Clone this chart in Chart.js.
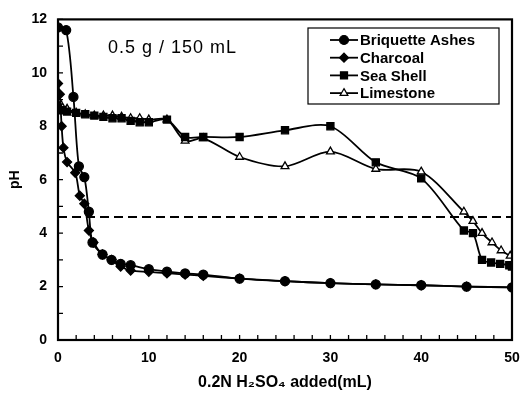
<!DOCTYPE html>
<html>
<head>
<meta charset="utf-8">
<style>
  html, body { margin: 0; padding: 0; background: #fff; }
  #wrap { position: relative; width: 520px; height: 396px; }
</style>
<script src="https://cdn.jsdelivr.net/npm/chart.js@4/dist/chart.umd.min.js"></script>
</head>
<body>
<div id="wrap"><canvas id="phChart" width="520" height="396"></canvas></div>
<script>
  // values: mL of acid added vs pH
  var ashesX = [0, 0.9, 1.7, 2.3, 2.9, 3.4, 3.8, 4.9, 5.9, 6.9, 8, 10, 12, 14, 16, 20, 25, 30, 35, 40, 45, 50];
  var ashesY = [11.7, 11.6, 9.1, 6.5, 6.1, 4.8, 3.65, 3.2, 3.0, 2.85, 2.8, 2.65, 2.56, 2.49, 2.45, 2.3, 2.2, 2.13, 2.08, 2.05, 2.0, 1.97];

  var charcoalX = [0, 0.2, 0.4, 0.6, 1, 1.9, 2.4, 2.9, 3.4, 3.9, 4.9, 5.9, 6.9, 8, 10, 12, 14, 16, 20, 25, 30, 35, 40, 45, 50];
  var charcoalY = [9.6, 9.2, 8.0, 7.2, 6.66, 6.26, 5.4, 5.1, 4.1, 3.65, 3.2, 3.0, 2.75, 2.6, 2.55, 2.5, 2.45, 2.4, 2.3, 2.2, 2.13, 2.08, 2.05, 2.0, 1.97];

  var shellX = [0, 0.5, 1, 2, 3, 4, 5, 6, 7, 8, 9, 10, 12, 14, 16, 20, 25, 30, 35, 40, 44.7, 45.7, 46.7, 47.7, 48.7, 49.7, 50];
  var shellY = [8.7, 8.6, 8.55, 8.5, 8.45, 8.4, 8.35, 8.3, 8.3, 8.2, 8.15, 8.15, 8.25, 7.6, 7.6, 7.6, 7.85, 8.0, 6.65, 6.05, 4.1, 4.0, 3.0, 2.9, 2.85, 2.8, 2.75];

  var limeX = [0, 0.5, 1, 2, 3, 4, 5, 6, 7, 8, 9, 10, 12, 14, 16, 20, 25, 30, 35, 40, 44.7, 45.7, 46.7, 47.8, 48.8, 49.8];
  var limeY = [9.0, 8.7, 8.65, 8.5, 8.45, 8.4, 8.4, 8.4, 8.35, 8.3, 8.3, 8.25, 8.25, 7.45, 7.55, 6.85, 6.5, 7.05, 6.4, 6.3, 4.8, 4.45, 4.0, 3.65, 3.35, 3.15];

  var refLineX = [0, 50];
  var refLineY = [4.6, 4.6];

  var seriesNames = ["Briquette Ashes", "Charcoal", "Sea Shell", "Limestone"];
  var xTicks = [0, 10, 20, 30, 40, 50];
  var yTicks = [0, 2, 4, 6, 8, 10, 12];

  function pairs(xs, ys) {
    return xs.map(function (x, i) { return { x: x, y: ys[i] }; });
  }

  var font = "'Liberation Sans', Arial, sans-serif";

  var markers = [
    { style: "circle", radius: 4.5, fill: "#000" },
    { style: "rectRot", radius: 4.5, fill: "#000" },
    { style: "rect", radius: 5, fill: "#000" },
    { style: "triangle", radius: 4.5, fill: "#fff" },
  ];

  function lineSet(label, xs, ys, m) {
    return {
      label: label,
      data: pairs(xs, ys),
      borderColor: "#000",
      borderWidth: 1.8,
      pointStyle: m.style,
      pointRadius: m.radius,
      pointBackgroundColor: m.fill,
      pointBorderColor: "#000",
      pointBorderWidth: 1.3,
      tension: 0.3,
      fill: false,
    };
  }

  // frame, inward tick marks, legend box and note
  var decorations = {
    id: "decorations",
    afterDatasetsDraw: function (chart) {
      var ctx = chart.ctx;
      var a = chart.chartArea;
      var xs = chart.scales.x;
      var ys = chart.scales.y;
      ctx.save();
      ctx.strokeStyle = "#000";
      ctx.lineWidth = 2.2;
      ctx.strokeRect(a.left, a.top, a.right - a.left, a.bottom - a.top);

      ctx.lineWidth = 1.3;
      ctx.beginPath();
      for (var v = 0; v <= 12; v++) {
        var py = ys.getPixelForValue(v);
        ctx.moveTo(a.left, py);
        ctx.lineTo(a.left + 5, py);
      }
      for (var u = 0; u <= 50; u += 2) {
        var px = xs.getPixelForValue(u);
        ctx.moveTo(px, a.bottom);
        ctx.lineTo(px, a.bottom - 5);
      }
      ctx.stroke();

      // note
      ctx.fillStyle = "#000";
      ctx.font = "18px " + font;
      ctx.letterSpacing = "1px";
      ctx.textAlign = "left";
      ctx.textBaseline = "middle";
      ctx.fillText("0.5 g / 150 mL", 108, 48);
      ctx.letterSpacing = "0px";

      // legend
      var bx = 308, by = 28, bw = 191, bh = 76;
      ctx.fillStyle = "#fff";
      ctx.fillRect(bx, by, bw, bh);
      ctx.lineWidth = 1.2;
      ctx.strokeRect(bx, by, bw, bh);
      ctx.font = "bold 15px " + font;
      for (var i = 0; i < seriesNames.length; i++) {
        var ry = 40 + i * 17.7;
        ctx.strokeStyle = "#000";
        ctx.lineWidth = 1.8;
        ctx.beginPath();
        ctx.moveTo(330, ry);
        ctx.lineTo(358, ry);
        ctx.stroke();
        var m = markers[i];
        ctx.fillStyle = m.fill;
        ctx.lineWidth = 1.2;
        Chart.helpers.drawPoint(ctx, { pointStyle: m.style, radius: m.radius, borderWidth: 1.2 }, 344, ry);
        ctx.fillStyle = "#000";
        ctx.fillText(seriesNames[i], 360, ry + 1);
      }
      ctx.restore();
    },
  };

  new Chart(document.getElementById("phChart"), {
    type: "line",
    data: {
      datasets: [
        lineSet(seriesNames[0], ashesX, ashesY, markers[0]),
        lineSet(seriesNames[1], charcoalX, charcoalY, markers[1]),
        lineSet(seriesNames[2], shellX, shellY, markers[2]),
        lineSet(seriesNames[3], limeX, limeY, markers[3]),
        {
          label: "reference",
          data: pairs(refLineX, refLineY),
          borderColor: "#000",
          borderWidth: 2,
          borderDash: [9, 5],
          pointRadius: 0,
          fill: false,
        },
      ],
    },
    options: {
      responsive: false,
      animation: false,
      layout: { padding: { top: 12, right: 0, left: 0, bottom: 0 } },
      plugins: {
        legend: { display: false },
        tooltip: { enabled: false },
      },
      scales: {
        x: {
          type: "linear",
          min: 0,
          max: 50,
          grid: { display: false, drawTicks: false },
          border: { display: false },
          afterFit: function (scale) {
            scale.height = 56;
            scale.paddingLeft = 0;
            scale.paddingRight = 8;
          },
          afterBuildTicks: function (scale) {
            scale.ticks = xTicks.map(function (v) { return { value: v }; });
          },
          ticks: {
            color: "#000",
            padding: 10,
            maxRotation: 0,
            font: { family: font, size: 14, weight: "bold" },
          },
          title: {
            display: true,
            text: "0.2N H\u2082SO\u2084 added(mL)",
            color: "#000",
            padding: { top: 4, bottom: 4 },
            font: { family: font, size: 16, weight: "bold" },
          },
        },
        y: {
          min: 0,
          max: 12,
          grid: { display: false, drawTicks: false },
          border: { display: false },
          afterFit: function (scale) { scale.width = 58; },
          afterBuildTicks: function (scale) {
            scale.ticks = yTicks.map(function (v) { return { value: v }; });
          },
          ticks: {
            color: "#000",
            padding: 11,
            font: { family: font, size: 14, weight: "bold" },
          },
          title: {
            display: true,
            text: "pH",
            color: "#000",
            padding: { top: 7, bottom: 4 },
            font: { family: font, size: 14, weight: "bold" },
          },
        },
      },
    },
    plugins: [decorations],
  });
</script>
</body>
</html>
